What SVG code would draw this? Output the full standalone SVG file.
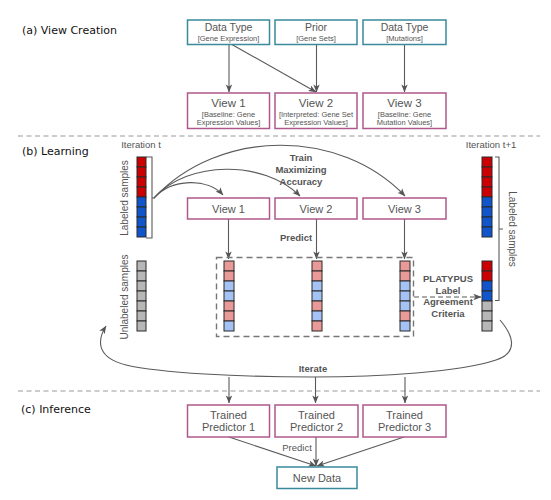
<svg xmlns="http://www.w3.org/2000/svg" width="551" height="500" viewBox="0 0 551 500">
<defs>
<style>
.sec{font-family:"DejaVu Sans",sans-serif;font-size:11px;fill:#111}
.t{font-family:"Liberation Sans",Arial,sans-serif;fill:#555;text-anchor:middle}
.b{font-family:"Liberation Sans",Arial,sans-serif;fill:#555;font-weight:bold;font-size:9.5px;text-anchor:middle}
.teal{fill:#fff;stroke:#3a8a9c;stroke-width:1.5}
.pink{fill:#fff;stroke:#b0588a;stroke-width:1.5}
.ln{fill:none;stroke:#5a5a5a;stroke-width:1.1}
.sep{stroke:#999;stroke-width:1.2;stroke-dasharray:5,3.5}
.c{stroke:#2a2a2a;stroke-width:1}
.R{fill:#cc0000}.B{fill:#1155cc}.r{fill:#ea9999}.l{fill:#a4c2f4}.g{fill:#b7b7b7}
</style>
<marker id="ah" viewBox="0 0 10 10" refX="9.5" refY="5" markerWidth="8" markerHeight="8" markerUnits="userSpaceOnUse" orient="auto">
<path d="M0,1 L10,5 L0,9 L2.5,5 z" fill="#555"/>
</marker>
</defs>
<rect width="551" height="500" fill="#fff"/>

<!-- separators -->
<line class="sep" x1="18" y1="136" x2="540" y2="136"/>
<line class="sep" x1="18" y1="391" x2="540" y2="391"/>

<!-- section labels -->
<text class="sec" x="22" y="34">(a) View Creation</text>
<text class="sec" x="22" y="155">(b) Learning</text>
<text class="sec" x="21" y="413">(c) Inference</text>

<!-- connectors -->
<g id="connectors">
<line class="ln" x1="229" y1="44" x2="229" y2="92" marker-end="url(#ah)"/>
<line class="ln" x1="231" y1="44" x2="316" y2="92" marker-end="url(#ah)"/>
<line class="ln" x1="316.5" y1="44" x2="316.5" y2="92" marker-end="url(#ah)"/>
<line class="ln" x1="404.5" y1="44" x2="404.5" y2="92" marker-end="url(#ah)"/>

<path class="ln" d="M154,198 C172,178 208,178 223,195" marker-end="url(#ah)"/>
<path class="ln" d="M154,198 C188,160 264,160 300,196" marker-end="url(#ah)"/>
<path class="ln" d="M154,198 C220,128 340,128 405,196" marker-end="url(#ah)"/>

<line class="ln" x1="228.5" y1="219" x2="228.5" y2="259" marker-end="url(#ah)"/>
<line class="ln" x1="316.5" y1="219" x2="316.5" y2="259" marker-end="url(#ah)"/>
<line class="ln" x1="404.5" y1="219" x2="404.5" y2="259" marker-end="url(#ah)"/>

<rect x="216.5" y="257.5" width="197" height="79" fill="none" stroke="#777" stroke-width="1.4" stroke-dasharray="6,4"/>
<line x1="414" y1="297" x2="481" y2="297" stroke="#5a5a5a" stroke-width="1.2" stroke-dasharray="5,3" marker-end="url(#ah)"/>

<path class="ln" d="M500,320 C512,334 520,352 496,360 C460,372 380,377 313,377 C240,377 160,373 126,365 C98,358 96,342 106,326" marker-end="url(#ah)"/>

<line class="ln" x1="229" y1="377" x2="229" y2="403" marker-end="url(#ah)"/>
<line class="ln" x1="315.5" y1="377" x2="315.5" y2="403" marker-end="url(#ah)"/>
<line class="ln" x1="405" y1="377" x2="405" y2="403" marker-end="url(#ah)"/>

<line class="ln" x1="229" y1="437" x2="316" y2="466" marker-end="url(#ah)"/>
<line class="ln" x1="316" y1="437" x2="316" y2="466" marker-end="url(#ah)"/>
<line class="ln" x1="404" y1="437" x2="317" y2="466" marker-end="url(#ah)"/>

<!-- brackets -->
<path class="ln" d="M146,157 L152,157 L152,238 L146,238 M152,198 L155,198"/>
<path class="ln" d="M495,157 L499,157 L499,300.5 L495,300.5 M499,229 L503,229"/>
</g>

<!-- (a) nodes -->
<g id="src1"><rect class="teal" x="187.5" y="20" width="82" height="24.5"/>
<text class="t" x="228.5" y="31" font-size="10.5">Data Type</text>
<text class="t" x="228.5" y="41" font-size="7.5">[Gene Expression]</text></g>
<g id="src2"><rect class="teal" x="275" y="20" width="82" height="24.5"/>
<text class="t" x="316" y="31" font-size="10.5">Prior</text>
<text class="t" x="316" y="41" font-size="7.5">[Gene Sets]</text></g>
<g id="src3"><rect class="teal" x="363" y="20" width="83" height="24.5"/>
<text class="t" x="404.5" y="31" font-size="10.5">Data Type</text>
<text class="t" x="404.5" y="41" font-size="7.5">[Mutations]</text></g>

<g id="viewA1"><rect class="pink" x="187.5" y="93" width="82" height="35.5"/>
<text class="t" x="228.5" y="106.5" font-size="11.5">View 1</text>
<text class="t" x="228.5" y="116.5" font-size="7.5">[Baseline: Gene</text>
<text class="t" x="228.5" y="125" font-size="7.5">Expression Values]</text></g>
<g id="viewA2"><rect class="pink" x="275" y="93" width="82" height="35.5"/>
<text class="t" x="316" y="106.5" font-size="11.5">View 2</text>
<text class="t" x="316" y="116.5" font-size="7.5">[Interpreted: Gene Set</text>
<text class="t" x="316" y="125" font-size="7.5">Expression Values]</text></g>
<g id="viewA3"><rect class="pink" x="363" y="93" width="83" height="35.5"/>
<text class="t" x="404.5" y="106.5" font-size="11.5">View 3</text>
<text class="t" x="404.5" y="116.5" font-size="7.5">[Baseline: Gene</text>
<text class="t" x="404.5" y="125" font-size="7.5">Mutation Values]</text></g>

<!-- (b) -->
<text class="t" x="141" y="148" font-size="9.5">Iteration t</text>
<text class="t" x="491" y="148" font-size="9.5">Iteration t+1</text>
<text class="t" font-size="10" transform="translate(128,198) rotate(-90)">Labeled samples</text>
<text class="t" font-size="10" transform="translate(128,297) rotate(-90)">Unlabeled samples</text>
<text class="t" font-size="10" transform="translate(509,229) rotate(90)">Labeled samples</text>

<g id="labeledT">
<rect class="c R" x="137" y="157" width="9" height="10"/><rect class="c R" x="137" y="167" width="9" height="10"/>
<rect class="c R" x="137" y="177" width="9" height="10"/><rect class="c R" x="137" y="187" width="9" height="10"/>
<rect class="c B" x="137" y="197" width="9" height="10"/><rect class="c B" x="137" y="207" width="9" height="10"/>
<rect class="c B" x="137" y="217" width="9" height="10"/><rect class="c B" x="137" y="227" width="9" height="10"/>
</g>
<g id="unlabeledT">
<rect class="c g" x="137" y="261" width="9" height="10"/><rect class="c g" x="137" y="271" width="9" height="10"/>
<rect class="c g" x="137" y="281" width="9" height="10"/><rect class="c g" x="137" y="291" width="9" height="10"/>
<rect class="c g" x="137" y="301" width="9" height="10"/><rect class="c g" x="137" y="311" width="9" height="10"/>
<rect class="c g" x="137" y="321" width="9" height="10"/>
</g>

<g id="viewB1"><rect class="pink" x="187.5" y="198" width="82" height="21"/>
<text class="t" x="228.5" y="212.5" font-size="11">View 1</text></g>
<g id="viewB2"><rect class="pink" x="275" y="198" width="82" height="21"/>
<text class="t" x="316" y="212.5" font-size="11">View 2</text></g>
<g id="viewB3"><rect class="pink" x="363" y="198" width="83" height="21"/>
<text class="t" x="404.5" y="212.5" font-size="11">View 3</text></g>

<text class="b" x="301" y="161">Train</text>
<text class="b" x="301" y="173">Maximizing</text>
<text class="b" x="301" y="185">Accuracy</text>
<text class="b" x="296" y="241">Predict</text>

<g id="pred1">
<rect class="c r" x="224" y="261" width="10" height="10"/><rect class="c r" x="224" y="271" width="10" height="10"/>
<rect class="c l" x="224" y="281" width="10" height="10"/><rect class="c l" x="224" y="291" width="10" height="10"/>
<rect class="c r" x="224" y="301" width="10" height="10"/><rect class="c r" x="224" y="311" width="10" height="10"/>
<rect class="c l" x="224" y="321" width="10" height="10"/>
</g>
<g id="pred2">
<rect class="c r" x="312" y="261" width="10" height="10"/><rect class="c r" x="312" y="271" width="10" height="10"/>
<rect class="c l" x="312" y="281" width="10" height="10"/><rect class="c l" x="312" y="291" width="10" height="10"/>
<rect class="c r" x="312" y="301" width="10" height="10"/><rect class="c l" x="312" y="311" width="10" height="10"/>
<rect class="c r" x="312" y="321" width="10" height="10"/>
</g>
<g id="pred3">
<rect class="c r" x="400" y="261" width="10" height="10"/><rect class="c r" x="400" y="271" width="10" height="10"/>
<rect class="c l" x="400" y="281" width="10" height="10"/><rect class="c l" x="400" y="291" width="10" height="10"/>
<rect class="c l" x="400" y="301" width="10" height="10"/><rect class="c r" x="400" y="311" width="10" height="10"/>
<rect class="c l" x="400" y="321" width="10" height="10"/>
</g>

<text class="b" x="448" y="282">PLATYPUS</text>
<text class="b" x="448" y="293.5">Label</text>
<text class="b" x="448" y="305">Agreement</text>
<text class="b" x="448" y="316.5">Criteria</text>

<g id="labeledT1">
<rect class="c R" x="482" y="157" width="10" height="10"/><rect class="c R" x="482" y="167" width="10" height="10"/>
<rect class="c R" x="482" y="177" width="10" height="10"/><rect class="c R" x="482" y="187" width="10" height="10"/>
<rect class="c B" x="482" y="197" width="10" height="10"/><rect class="c B" x="482" y="207" width="10" height="10"/>
<rect class="c B" x="482" y="217" width="10" height="10"/><rect class="c B" x="482" y="227" width="10" height="10"/>
</g>
<g id="mixedT1">
<rect class="c R" x="482" y="261" width="10" height="10"/><rect class="c R" x="482" y="271" width="10" height="10"/>
<rect class="c B" x="482" y="281" width="10" height="10"/><rect class="c B" x="482" y="291" width="10" height="10"/>
<rect class="c g" x="482" y="301" width="10" height="10"/><rect class="c g" x="482" y="311" width="10" height="10"/>
<rect class="c g" x="482" y="321" width="10" height="10"/>
</g>

<text class="b" x="313" y="372">Iterate</text>

<!-- (c) -->
<g id="tp1"><rect class="pink" x="187.5" y="405" width="82" height="32"/>
<text class="t" x="228.5" y="418.5" font-size="11">Trained</text>
<text class="t" x="228.5" y="431" font-size="11">Predictor 1</text></g>
<g id="tp2"><rect class="pink" x="275" y="405" width="83" height="32"/>
<text class="t" x="316.5" y="418.5" font-size="11">Trained</text>
<text class="t" x="316.5" y="431" font-size="11">Predictor 2</text></g>
<g id="tp3"><rect class="pink" x="363" y="405" width="83" height="32"/>
<text class="t" x="404.5" y="418.5" font-size="11">Trained</text>
<text class="t" x="404.5" y="431" font-size="11">Predictor 3</text></g>
<text class="t" x="297" y="451" font-size="9.5">Predict</text>
<g id="newdata"><rect class="teal" x="277" y="467" width="80" height="21.5"/>
<text class="t" x="317" y="482" font-size="11">New Data</text></g>
</svg>
